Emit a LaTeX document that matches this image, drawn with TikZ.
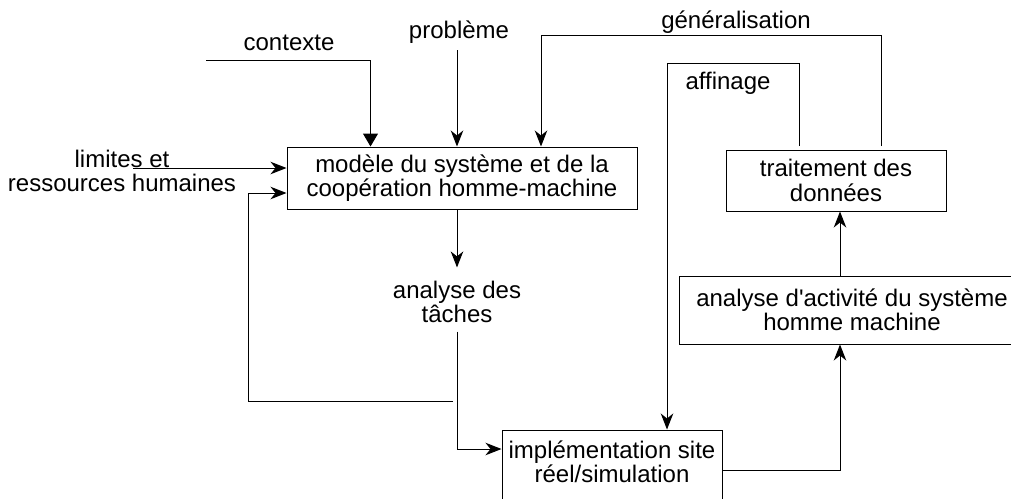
\documentclass[tikz,border=0pt]{standalone}
\usepackage{fontspec}
\setmainfont{Liberation Sans}
\usetikzlibrary{arrows.meta}
\begin{document}
\begin{tikzpicture}[x=1pt,y=-1pt,line width=1pt,
  every node/.style={font=\fontsize{24pt}{24.5pt}\selectfont, align=center},
  box/.style={draw, inner sep=0pt},
  lbl/.style={inner sep=0pt},
  arr/.style={-{Stealth[length=16pt,width=12.5pt,inset=5pt]}},
  tri/.style={-{Triangle[length=13pt,width=15pt]}}]
\useasboundingbox (0,0) rectangle (1011,498);
\clip (0,0) rectangle (1011,498);
% boxes
\node[box, minimum width=350pt, minimum height=62pt] (mod) at (462,178) {modèle du système et de la\\coopération homme-machine};
\node[box, minimum width=220pt, minimum height=61pt] (trt) at (836,180.5) {traitement des\\données};
\node[box, minimum width=346pt, minimum height=68pt] (act) at (852,310) {analyse d\textquotesingle activité du système\\homme machine};
\node[box, minimum width=220pt, minimum height=72pt,
  label={[lbl, yshift=4pt]center:implémentation site\\réel/simulation}] (imp) at (612,466) {};
% labels
\node[lbl] (ctx) at (289,43) {contexte};
\node[lbl] (prb) at (459,32) {problème};
\node[lbl] (lim) at (122,171) {limites et\\ressources humaines};
\node[lbl] (gen) at (736,22) {généralisation};
\node[lbl] (aff) at (728,83) {affinage};
\node[lbl] (tac) at (457,302) {analyse des\\tâches};
% free ends
\coordinate (c0) at (206,60);
\coordinate (p0) at (457,50);
\coordinate (l0) at (133,168);
\coordinate (g0) at (881,146);
\coordinate (g1) at (881,35);
\coordinate (g2) at (541,35);
\coordinate (a0) at (799,146);
\coordinate (a1) at (799,63);
\coordinate (a2) at (667,63);
\coordinate (t1) at (456,449);
\coordinate (f0) at (453,401);
\coordinate (f1) at (248,401);
\coordinate (f2) at (248,193);
\coordinate (i1) at (840,470);
% connectors
\draw[tri] (c0) -| ([xshift=84pt]mod.north west);
\draw[arr] (p0) -- (p0 |- mod.north);
\draw[arr] (l0) -- (l0 -| mod.west);
\draw[arr] (g0) -- (g1) -- (g2) -- (g2 |- mod.north);
\draw[arr] (a0) -- (a1) -- (a2) -- (a2 |- imp.north);
\draw[arr] (mod.south -| tac.north) -- ([yshift=13pt]tac.north);
\draw[arr] ([yshift=-8pt]tac.south) -- (tac.south |- t1) -- (t1 -| imp.west);
\draw[arr] (f0) -- (f1) -- (f2) -- (f2 -| mod.west);
\draw[arr] (i1 -| imp.east) -- (i1) -- (i1 |- act.south);
\draw[arr] (act.north -| i1) -- (i1 |- trt.south);
\end{tikzpicture}
\end{document}
